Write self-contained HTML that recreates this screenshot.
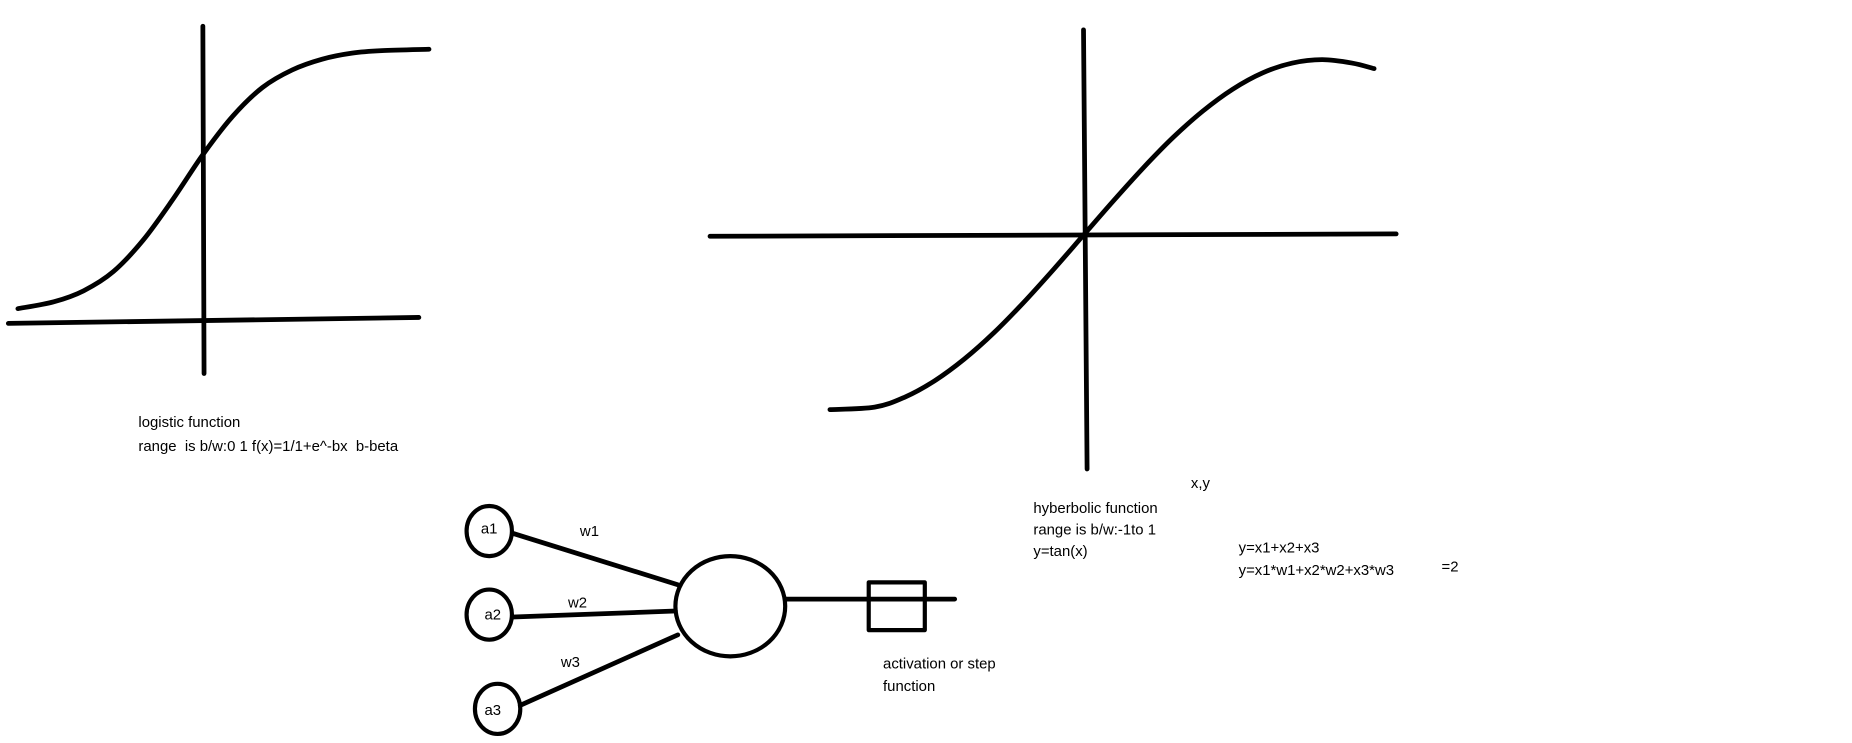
<!DOCTYPE html>
<html><head><meta charset="utf-8"><style>
html,body{margin:0;padding:0;background:#fff;}
svg{display:block;}
text{font-family:"Liberation Sans",sans-serif;font-size:12.5px;fill:#000;}
</style></head><body>
<svg id="c" width="1852" height="743" viewBox="0 0 1552 622.6" preserveAspectRatio="none">
<g fill="none" stroke="#000" stroke-width="4" stroke-linecap="round" stroke-linejoin="round">
  <line x1="170" y1="22" x2="171" y2="313"/>
  <line x1="7" y1="271" x2="351" y2="266"/>
  <line x1="908" y1="25" x2="911" y2="393"/>
  <line x1="595" y1="198" x2="1170" y2="196"/>
  <path id="logCurve"/>
  <path id="tanhCurve"/>
  <ellipse cx="410" cy="445" rx="19" ry="21" stroke-width="3.5"/>
  <ellipse cx="410" cy="515" rx="19" ry="21" stroke-width="3.5"/>
  <ellipse cx="417" cy="594" rx="19" ry="21" stroke-width="3.5"/>
  <ellipse cx="612" cy="508" rx="46" ry="42" stroke-width="3.5"/>
  <line x1="430" y1="447" x2="568" y2="490"/>
  <line x1="430" y1="517" x2="566" y2="512"/>
  <line x1="436" y1="591" x2="568" y2="532"/>
  <line x1="658" y1="502" x2="800" y2="502"/>
  <rect x="728" y="488" width="47" height="40" stroke-width="3.5"/>
</g>
<g>
  <text x="116" y="358">logistic function</text>
  <text x="116" y="378" xml:space="preserve">range  is b/w:0 1 f(x)=1/1+e^-bx  b-beta</text>
  <text x="998" y="409">x,y</text>
  <text x="866" y="430">hyberbolic function</text>
  <text x="866" y="448">range is b/w:-1to 1</text>
  <text x="866" y="466">y=tan(x)</text>
  <text x="1038" y="463">y=x1+x2+x3</text>
  <text x="1038" y="482">y=x1*w1+x2*w2+x3*w3</text>
  <text x="1208" y="479">=2</text>
  <text x="403" y="447">a1</text>
  <text x="406" y="519">a2</text>
  <text x="406" y="599">a3</text>
  <text x="486" y="449">w1</text>
  <text x="476" y="509">w2</text>
  <text x="470" y="559">w3</text>
  <text x="740" y="560">activation or step</text>
  <text x="740" y="579">function</text>
</g>
</svg>
<script>
const logX = [-3.1, -2.5, -2, -1.5, -1, -0.5, 0, 0.5, 1, 1.5, 2, 2.5, 3, 3.79];
const logY = [0.045, 0.07, 0.11, 0.18, 0.295, 0.444, 0.606, 0.746, 0.851, 0.915, 0.954, 0.976, 0.985, 0.99];
const tanhX = [-4.25, -3.5, -3, -2.5, -2, -1.5, -1, -0.5, 0, 0.5, 1, 1.5, 2, 2.5, 3, 3.5, 4, 4.5, 4.87];
const tanhY = [-0.975, -0.961, -0.906, -0.815, -0.693, -0.545, -0.375, -0.191, 0, 0.191, 0.375, 0.545, 0.693, 0.815, 0.906, 0.961, 0.98, 0.961, 0.93];

function logSx(v){return 170 + v*50;}
function logSy(v){return 269 - v*230;}
function tanhSx(v){return 908 + v*50;}
function tanhSy(v){return 197 - v*150;}

function smooth(pts){
  let d = 'M' + pts[0][0] + ',' + pts[0][1];
  for (let i = 0; i < pts.length - 1; i++){
    const p0 = pts[Math.max(0, i-1)], p1 = pts[i], p2 = pts[i+1], p3 = pts[Math.min(pts.length-1, i+2)];
    const c1x = p1[0] + (p2[0]-p0[0])/6, c1y = p1[1] + (p2[1]-p0[1])/6;
    const c2x = p2[0] - (p3[0]-p1[0])/6, c2y = p2[1] - (p3[1]-p1[1])/6;
    d += ' C' + c1x + ',' + c1y + ' ' + c2x + ',' + c2y + ' ' + p2[0] + ',' + p2[1];
  }
  return d;
}
document.getElementById('logCurve').setAttribute('d', smooth(logX.map((x,i)=>[logSx(x), logSy(logY[i])])));
document.getElementById('tanhCurve').setAttribute('d', smooth(tanhX.map((x,i)=>[tanhSx(x), tanhSy(tanhY[i])])));
</script>
</body></html>
